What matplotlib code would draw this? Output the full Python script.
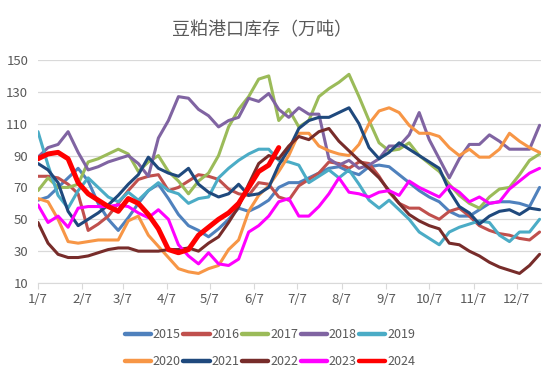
import matplotlib
matplotlib.use('Agg')
import matplotlib.pyplot as plt
import pandas as pd

plt.rcParams['font.family'] = ['Noto Sans CJK SC', 'DejaVu Sans']

# weekly port inventory of soybean meal, 10k tonnes, week 1 = Jan 7
dates = pd.date_range('2023-01-07', periods=51, freq='7D')
tick_dates = pd.date_range('2023-01-01', periods=12, freq='MS') + pd.Timedelta(days=6)
tick_labels = ['1/7', '2/7', '3/7', '4/7', '5/7', '6/7', '7/7', '8/7', '9/7', '10/7', '11/7', '12/7']

y2015 = [62, 64, 70, 76, 82, 74, 60, 50, 43, 51, 60, 68, 72, 63, 53, 46, 43, 39, 44, 50,
         57, 55, 58, 62, 70, 73, 73, 76, 79, 82, 83, 80, 78, 83, 84, 83, 78, 73, 68, 64,
         61, 55, 52, 52, 56, 60, 61, 61, 60, 58, 70]
y2016 = [77, 77, 76, 72, 66, 43, 47, 52, 60, 68, 75, 77, 78, 68, 70, 74, 78, 77, 75, 69,
         66, 65, 73, 72, 64, 62, 71, 75, 79, 86, 85, 82, 86, 85, 77, 67, 60, 57, 57, 53,
         50, 55, 57, 52, 46, 43, 41, 40, 38, 37, 42]
y2017 = [68, 76, 70, 70, 72, 86, 88, 91, 94, 91, 80, 86, 90, 80, 74, 66, 74, 79, 90, 108,
         119, 127, 138, 140, 112, 119, 108, 112, 127, 132, 136, 141, 127, 112, 98, 93, 94, 98, 90, 85,
         80, 72, 65, 60, 57, 64, 69, 70, 78, 87, 91]
y2018 = [89, 95, 97, 105, 92, 81, 83, 86, 88, 90, 85, 77, 101, 112, 127, 126, 119, 115, 108, 112,
         114, 126, 124, 129, 119, 114, 120, 116, 116, 88, 84, 87, 82, 84, 88, 96, 96, 103, 117, 100,
         88, 76, 88, 97, 97, 103, 99, 94, 94, 94, 109]
y2019 = [105, 84, 65, 57, 68, 76, 70, 64, 61, 67, 62, 68, 73, 68, 66, 60, 63, 64, 76, 82,
         87, 91, 94, 94, 87, 86, 84, 73, 77, 81, 76, 81, 72, 62, 57, 62, 56, 50, 42, 38,
         34, 42, 45, 47, 49, 48, 40, 36, 42, 42, 50]
y2020 = [63, 61, 50, 36, 35, 36, 37, 37, 37, 49, 52, 40, 33, 26, 19, 17, 16, 19, 21, 31,
         37, 55, 65, 71, 80, 90, 104, 104, 96, 93, 91, 90, 97, 110, 118, 120, 117, 109, 104, 104,
         102, 95, 90, 94, 89, 89, 94, 104, 99, 95, 92]
y2021 = [85, 81, 73, 55, 46, 50, 54, 59, 65, 72, 78, 89, 82, 79, 77, 82, 72, 67, 64, 66,
         72, 65, 66, 70, 84, 94, 107, 112, 114, 114, 117, 120, 110, 95, 88, 92, 98, 94, 90, 86,
         82, 68, 58, 54, 47, 52, 55, 56, 53, 57, 56]
y2022 = [48, 35, 28, 26, 26, 27, 29, 31, 32, 32, 30, 30, 30, 31, 31, 32, 30, 35, 39, 48,
         58, 72, 85, 90, 88, 96, 102, 100, 105, 107, 99, 93, 87, 82, 76, 68, 60, 53, 49, 46,
         44, 35, 34, 30, 27, 23, 20, 18, 16, 21, 28]
y2023 = [59, 48, 52, 45, 57, 58, 58, 58, 59, 58, 54, 51, 56, 50, 34, 27, 22, 29, 22, 21,
         25, 42, 46, 52, 61, 63, 52, 52, 58, 66, 76, 67, 66, 64, 67, 68, 65, 74, 70, 67,
         64, 71, 67, 61, 64, 60, 61, 69, 74, 79, 82]
y2024 = [88, 91, 92, 88, 73, 66, 62, 58, 55, 63, 60, 53, 44, 31, 29, 31, 40, 45, 50, 54,
         60, 70, 80, 84, 95]

years = ['2015', '2016', '2017', '2018', '2019', '2020', '2021', '2022', '2023', '2024']
series = [y2015, y2016, y2017, y2018, y2019, y2020, y2021, y2022, y2023, y2024]
colors = ['#4F81BD', '#C0504D', '#9BBB59', '#8064A2', '#4BACC6',
          '#F79646', '#1F497D', '#772C2A', '#FF00FF', '#FF0000']

fig = plt.figure(figsize=(5.46, 3.80), dpi=100)
ax = fig.add_axes([38 / 546, 1 - 283 / 380, 503 / 546, 223 / 380])

lines = []
for name, vals, c in zip(years, series, colors):
    lw = 3.6 if name == '2024' else 2.2
    ln, = ax.plot(dates[:len(vals)], vals, color=c, lw=lw, label=name,
                  solid_joinstyle='round', solid_capstyle='round')
    lines.append(ln)

ax.set_ylim(10, 150)
ax.set_yticks(range(10, 151, 20))
ax.set_xlim(dates[0], dates[-1] + pd.Timedelta(days=1))
ax.set_xticks(tick_dates)
ax.set_xticklabels(tick_labels)
ax.grid(axis='y', color='#d9d9d9', lw=0.9)
ax.set_axisbelow(True)
for s in ['top', 'right', 'left']:
    ax.spines[s].set_visible(False)
ax.spines['bottom'].set_color('#d9d9d9')
ax.tick_params(axis='y', length=0, labelsize=9.5, colors='#595959', pad=7)
ax.tick_params(axis='x', length=4, color='#d9d9d9', labelsize=9.5, labelcolor='#595959', pad=3)

fig.text(262 / 546, 1 - 30 / 380, '豆粕港口库存（万吨）', ha='center', va='center',
         fontsize=13, color='#595959')

# legend fills column-wise, so interleave to get two rows of five
order = [0, 5, 1, 6, 2, 7, 3, 8, 4, 9]
leg = fig.legend([lines[i] for i in order], [years[i] for i in order],
                 loc='center', bbox_to_anchor=(270 / 546, 1 - 348 / 380), ncol=5, frameon=False,
                 fontsize=9, handlelength=2.1, handletextpad=0.15, columnspacing=0.2,
                 labelspacing=1.1, labelcolor='#595959')
for h in leg.legend_handles:
    h.set_linewidth(3.2)

fig.savefig('out.png', dpi=100)
